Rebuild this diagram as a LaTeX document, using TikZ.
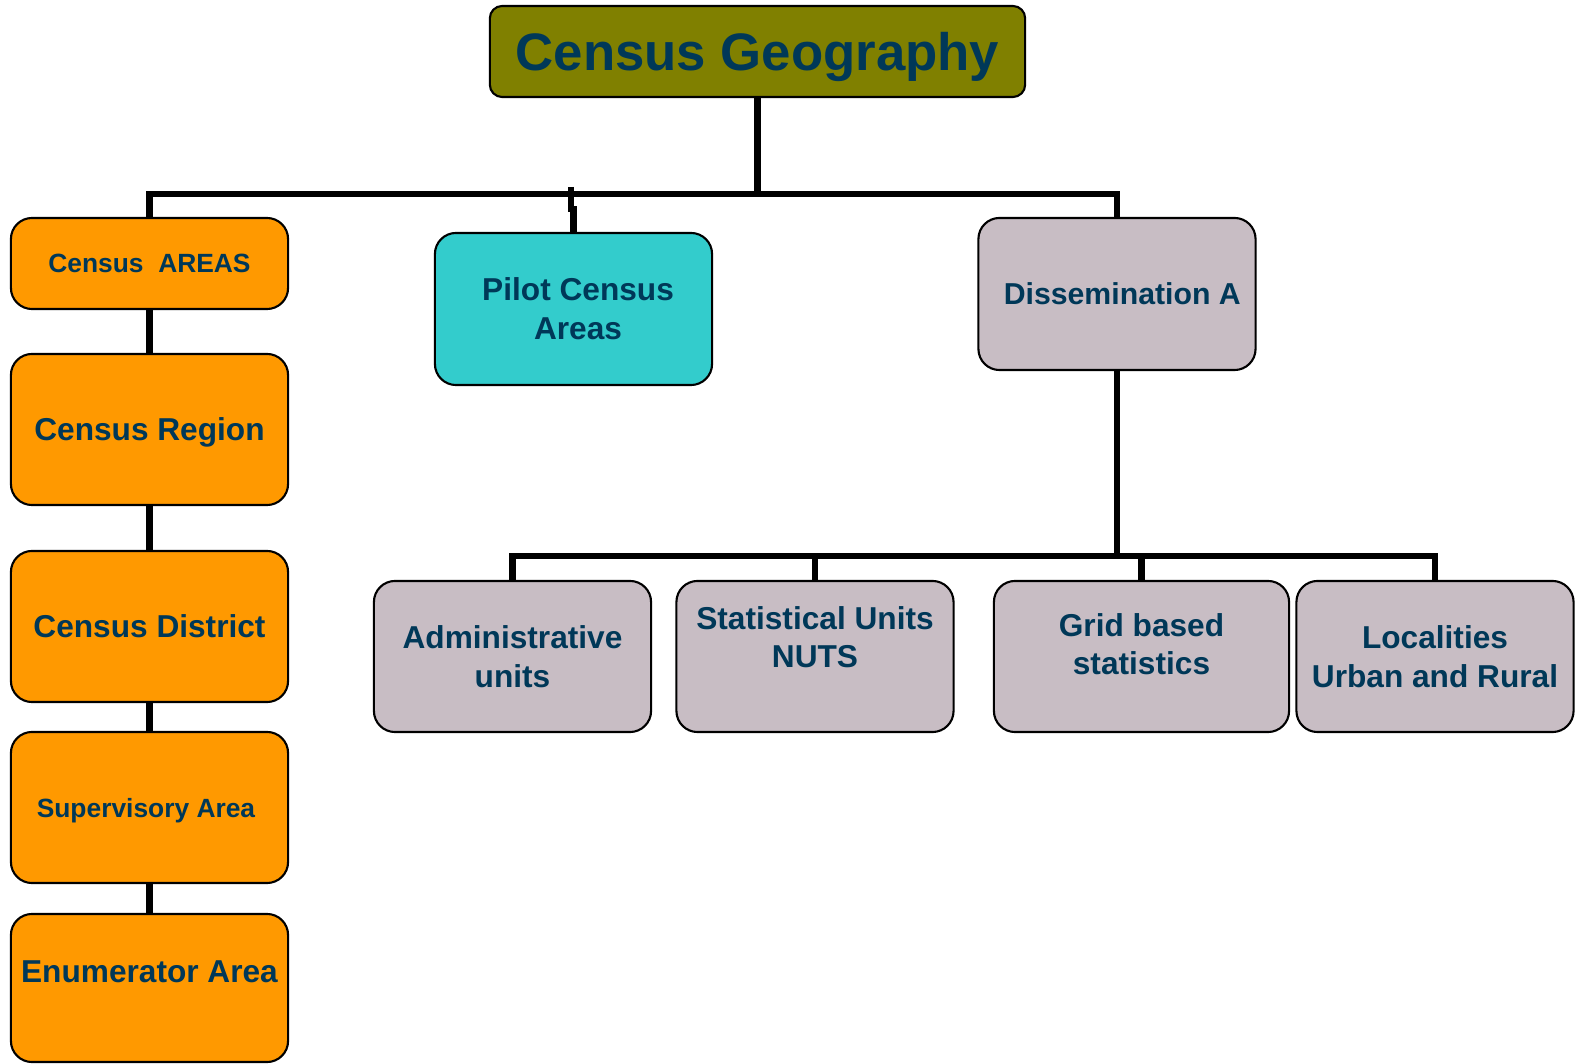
\documentclass[tikz,border=0pt]{standalone}
\usepackage{fontspec}
\setmainfont{Liberation Sans}
\definecolor{txtblue}{RGB}{0,56,88}
\definecolor{olivefill}{RGB}{128,128,0}
\definecolor{orangefill}{RGB}{255,153,0}
\definecolor{tealfill}{RGB}{51,204,204}
\definecolor{mauvefill}{RGB}{200,189,196}
\begin{document}
\begin{tikzpicture}[x=0.01cm,y=-0.01cm,
	box/.style={draw=black,line width=0.6pt,rounded corners=6pt,align=center,text=txtblue,inner sep=0pt,font=\bfseries\fontsize{9}{11}\selectfont},
	orng/.style={box,fill=orangefill,minimum width=2.77cm,minimum height=1.51cm},
	mauv/.style={box,fill=mauvefill,minimum width=2.77cm,minimum height=1.51cm},
	link/.style={line width=1.8pt,black}]
		\useasboundingbox (0,0) rectangle (1581,1064);
		\node[box,fill=olivefill,rounded corners=3.5pt,minimum width=5.35cm,minimum height=0.91cm,text depth=0pt,font=\bfseries\fontsize{15}{18}\selectfont](a) at (757.5,51.5){Census Geography};
		\node[orng,minimum height=0.91cm,font=\bfseries\fontsize{7.5}{9}\selectfont](b) at (149.5,263.5){Census~~AREAS};
		\node[box,fill=tealfill,minimum width=2.77cm,minimum height=1.52cm](c) at (573.5,309){\hspace*{2.6pt}Pilot Census\\\hspace*{2.6pt}Areas};
		\node[mauv,minimum height=1.52cm,font=\bfseries\fontsize{8.6}{11}\selectfont](d) at (1117,294){\hspace*{3pt}Dissemination A};
		\node[orng,text depth=0pt](e) at (149.5,429.5){Census Region};
		\node[orng](f) at (149.5,626.5){Census District};
		\node[orng,text depth=0pt,font=\bfseries\fontsize{7.5}{9}\selectfont](g) at (149.5,807.5){Supervisory Area\hspace*{2pt}};
		\node[orng,minimum height=1.48cm](h) at (149.5,988){Enumerator Area\\[-1.6pt]\mbox{}};
		\node[mauv](i) at (512.5,656.5){Administrative\\units};
		\node[mauv](j) at (815,656.5){Statistical Units\\NUTS\\\mbox{}};
		\node[mauv,minimum width=2.95cm](k) at (1141.5,656.5){Grid based\\statistics\\[-4pt]\mbox{}};
		\node[mauv](l) at (1435,656.5){Localities\\Urban and Rural};
		% junctions
		\coordinate (t1) at (757.5,194);
		\coordinate (t2) at (571,187);
		\coordinate (t3) at (1117,556);
		\draw[link] (a)--(t1);
		\draw[link] (b.north) |- (t1) -| (d.north);
		\draw[link] (t2) -- ++(0,22) -| (c.north);
		\draw[link] (b)--(e);
		\draw[link] (e)--(f);
		\draw[link] (f)--(g);
		\draw[link] (g)--(h);
		\draw[link] (d)--(t3);
		\draw[link] (i.north) |- (t3) -| (l.north);
		\draw[link] (j.north) -- (j.north |- t3);
		\draw[link] (k.north) -- (k.north |- t3);
	\end{tikzpicture}
\end{document}
